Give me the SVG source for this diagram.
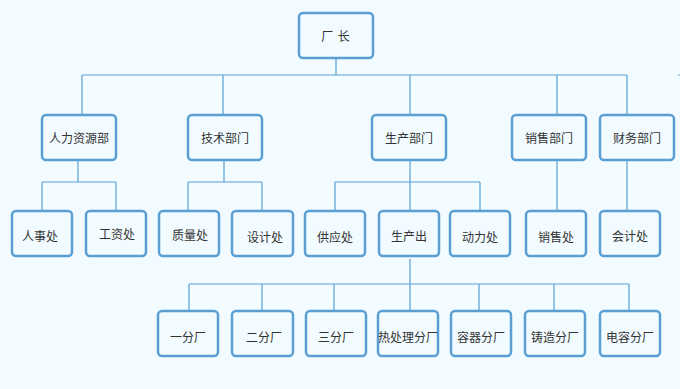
<svg xmlns="http://www.w3.org/2000/svg" width="680" height="389" viewBox="0 0 680 389">
<style>
.bg{fill:#f2fbff}
.box{fill:#f2fbff;stroke:#5a9fd4;stroke-width:2.5}
.t{font-family:"Noto Sans CJK SC","Liberation Sans",sans-serif;font-size:12px;fill:#333;text-anchor:middle;dominant-baseline:central}
.c{fill:none;stroke:#5a9fd4;stroke-width:1.2}
</style>
<rect class="bg" x="0" y="0" width="680" height="389"/>
<g id="connectors">
<path class="c" d="M336 58V75M82 75H627M82 75V115M223 75V115M410 75V115M557 75V115M627 75V115"/>
<path class="c" d="M678 75H680"/>
<path class="c" d="M78 160V182M42 182H116M42 182V211M116 182V211"/>
<path class="c" d="M224 160V182M188 182H262M188 182V211M262 182V211"/>
<path class="c" d="M410 160V211M335 182H480M335 182V211M480 182V211"/>
<path class="c" d="M557 160V211M627 160V211"/>
<path class="c" d="M410 259V311M189 284H629M189 284V311M262 284V311M334 284V311M479 284V311M554 284V311M629 284V311"/>
</g>
<g id="n-changzhang"><rect class="box" x="299" y="13" width="74" height="45" rx="4"/><text class="t" x="336" y="35.5" letter-spacing="1">厂 长</text></g>
<g id="n-renli"><rect class="box" x="42" y="115" width="74" height="45" rx="4"/><text class="t" x="79" y="137.5">人力资源部</text></g>
<g id="n-jishu"><rect class="box" x="188" y="115" width="74" height="45" rx="4"/><text class="t" x="225" y="137.5">技术部门</text></g>
<g id="n-shengchan"><rect class="box" x="372" y="115" width="74" height="45" rx="4"/><text class="t" x="409" y="137.5">生产部门</text></g>
<g id="n-xiaoshou"><rect class="box" x="512" y="115" width="74" height="45" rx="4"/><text class="t" x="549" y="137.5">销售部门</text></g>
<g id="n-caiwu"><rect class="box" x="600" y="115" width="74" height="45" rx="4"/><text class="t" x="637" y="137.5">财务部门</text></g>
<g id="n-renshi"><rect class="box" x="12" y="211" width="60" height="45" rx="4"/><text class="t" x="40" y="235">人事处</text></g>
<g id="n-gongzi"><rect class="box" x="86" y="211" width="60" height="45" rx="4"/><text class="t" x="117" y="233">工资处</text></g>
<g id="n-zhiliang"><rect class="box" x="159" y="211" width="60" height="45" rx="4"/><text class="t" x="190" y="234">质量处</text></g>
<g id="n-sheji"><rect class="box" x="232" y="211" width="61" height="45" rx="4"/><text class="t" x="265" y="236">设计处</text></g>
<g id="n-gongying"><rect class="box" x="305" y="211" width="60" height="45" rx="4"/><text class="t" x="335" y="236">供应处</text></g>
<g id="n-shengchanchu"><rect class="box" x="379" y="211" width="60" height="45" rx="4"/><text class="t" x="409" y="235">生产出</text></g>
<g id="n-dongli"><rect class="box" x="450" y="211" width="60" height="45" rx="4"/><text class="t" x="480" y="236">动力处</text></g>
<g id="n-xiaoshouchu"><rect class="box" x="526" y="211" width="60" height="45" rx="4"/><text class="t" x="556" y="236">销售处</text></g>
<g id="n-kuaiji"><rect class="box" x="600" y="211" width="60" height="45" rx="4"/><text class="t" x="630" y="235">会计处</text></g>
<g id="n-yi"><rect class="box" x="158" y="311" width="60" height="45" rx="4"/><text class="t" x="188" y="336">一分厂</text></g>
<g id="n-er"><rect class="box" x="232" y="311" width="61" height="45" rx="4"/><text class="t" x="264" y="336">二分厂</text></g>
<g id="n-san"><rect class="box" x="306" y="311" width="60" height="45" rx="4"/><text class="t" x="336" y="336">三分厂</text></g>
<g id="n-rechuli"><rect class="box" x="378" y="311" width="60" height="45" rx="4"/><text class="t" x="408" y="336">热处理分厂</text></g>
<g id="n-rongqi"><rect class="box" x="451" y="311" width="60" height="45" rx="4"/><text class="t" x="481" y="336">容器分厂</text></g>
<g id="n-zhuzao"><rect class="box" x="525" y="311" width="60" height="45" rx="4"/><text class="t" x="555" y="336">铸造分厂</text></g>
<g id="n-dianrong"><rect class="box" x="600" y="311" width="60" height="45" rx="4"/><text class="t" x="630" y="336">电容分厂</text></g>
</svg>
